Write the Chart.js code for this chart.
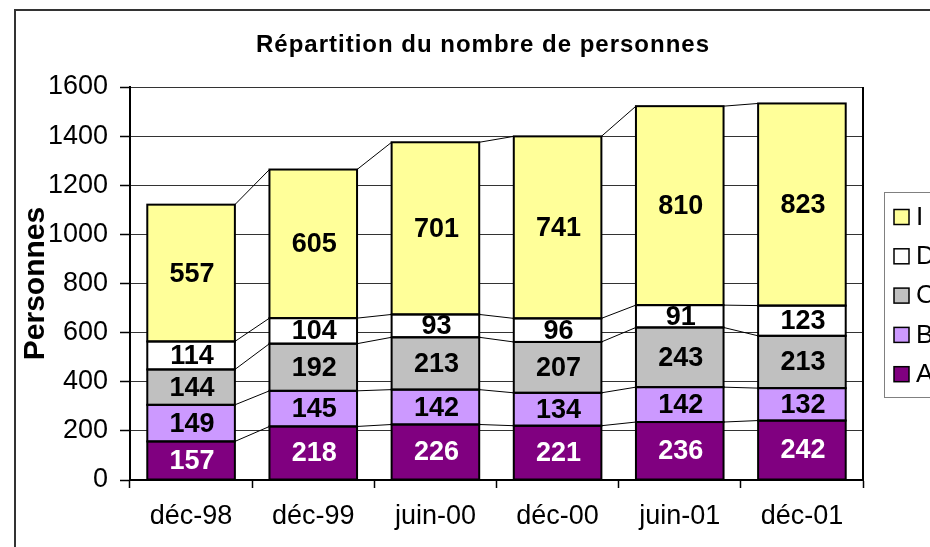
<!DOCTYPE html>
<html><head><meta charset="utf-8">
<script src="https://cdn.jsdelivr.net/npm/chart.js@4.4.0/dist/chart.umd.min.js"></script>
<style>html,body{margin:0;padding:0;background:#fff;overflow:hidden}#wrap{width:930px;height:547px;position:relative}</style>
</head><body><div id="wrap"><canvas id="c" width="930" height="547"></canvas></div>
<script>
const categories = ['déc-98','déc-99','juin-00','déc-00','juin-01','déc-01'];
const seriesNames = ['A','B','C','D','I'];
const seriesA = [157,218,226,221,236,242];
const seriesB = [149,145,142,134,142,132];
const seriesC = [144,192,213,207,243,213];
const seriesD = [114,104,93,96,91,123];
const seriesI = [557,605,701,741,810,823];
const yTicks = [0,200,400,600,800,1000,1200,1400,1600];
const chartTitle = 'Répartition du nombre de personnes';
const yAxisTitle = 'Personnes';

const FONT = "'Liberation Sans', Arial, sans-serif";
const colors = ['#800080','#CC99FF','#C0C0C0','#FFFFFF','#FFFF99'];
const labelColors = ['#FFFFFF','#000000','#000000','#000000','#000000'];
const seriesValues = [seriesA, seriesB, seriesC, seriesD, seriesI];

const framePlugin = {
  id: 'frame',
  beforeDraw(chart){
    const ctx = chart.ctx;
    ctx.save();
    ctx.fillStyle = '#fff';
    ctx.fillRect(0,0,chart.width,chart.height);
    ctx.strokeStyle = '#333';
    ctx.lineWidth = 2;
    ctx.strokeRect(15, 10, 2000, 2000);
    ctx.restore();
  }
};

const barsPlugin = {
  id: 'barsExtras',
  afterDatasetsDraw(chart){
    const ctx = chart.ctx;
    ctx.save();
    ctx.strokeStyle = '#000';
    ctx.lineWidth = 1;
    chart.data.datasets.forEach((ds, di) => {
      const meta = chart.getDatasetMeta(di);
      for (let i = 0; i < meta.data.length - 1; i++) {
        const a = meta.data[i], b = meta.data[i+1];
        ctx.beginPath();
        ctx.moveTo(a.x + a.width/2, a.y);
        ctx.lineTo(b.x - b.width/2, b.y);
        ctx.stroke();
      }
    });
    ctx.lineWidth = 2;
    chart.data.datasets.forEach((ds, di) => {
      const meta = chart.getDatasetMeta(di);
      meta.data.forEach(el => {
        ctx.strokeRect(el.x - el.width/2, el.y, el.width, el.base - el.y);
      });
    });
    ctx.font = 'bold 27px ' + FONT;
    ctx.textAlign = 'center';
    ctx.textBaseline = 'middle';
    chart.data.datasets.forEach((ds, di) => {
      const meta = chart.getDatasetMeta(di);
      ctx.fillStyle = labelColors[di];
      meta.data.forEach((el, i) => {
        ctx.fillText(String(ds.data[i]), el.x + 1, (el.y + el.base)/2 + 1);
      });
    });
    ctx.restore();
  },
  afterDraw(chart){
    const ctx = chart.ctx;
    const ca = chart.chartArea;
    ctx.save();
    ctx.strokeStyle = '#000';
    ctx.lineWidth = 2;
    ctx.beginPath();
    ctx.moveTo(ca.right, ca.top);
    ctx.lineTo(ca.right, ca.bottom);
    ctx.stroke();
    ctx.letterSpacing = '1px';
    ctx.font = 'bold 24px ' + FONT;
    ctx.fillStyle = '#000';
    ctx.textAlign = 'center';
    ctx.textBaseline = 'alphabetic';
    ctx.fillText(chartTitle, 483, 52);
    ctx.letterSpacing = '0px';
    ctx.strokeStyle = '#808080';
    ctx.lineWidth = 1;
    ctx.strokeRect(884.5, 192.5, 100, 205);
    ctx.font = '26px ' + FONT;
    ctx.textBaseline = 'middle';
    ctx.textAlign = 'left';
    const order = [4,3,2,1,0];
    order.forEach((di, k) => {
      const cy = 216.5 + k * 39.3;
      ctx.fillStyle = colors[di];
      ctx.fillRect(894, cy - 7, 15, 15);
      ctx.strokeStyle = '#000';
      ctx.lineWidth = 1.5;
      ctx.strokeRect(894, cy - 7, 15, 15);
      ctx.fillStyle = '#000';
      ctx.fillText(chart.data.datasets[di].label, 916, cy + 1);
    });
    ctx.restore();
  }
};

new Chart(document.getElementById('c'), {
  type: 'bar',
  data: {
    labels: categories,
    datasets: seriesValues.map((vals, i) => ({
      label: seriesNames[i],
      data: vals,
      backgroundColor: colors[i],
      borderWidth: 0,
      categoryPercentage: 1,
      barPercentage: 0.717
    }))
  },
  options: {
    responsive: false,
    animation: false,
    layout: { padding: { left: 14, right: 67, top: 87, bottom: 0 } },
    plugins: { legend: { display: false }, title: { display: false }, tooltip: { enabled: false } },
    scales: {
      x: {
        stacked: true,
        ticks: { font: { size: 27, family: FONT }, color: '#000', padding: 12, maxRotation: 0 },
        grid: { offset: true, drawOnChartArea: false, tickLength: 8, tickColor: '#000', tickWidth: 1.5 },
        border: { color: '#000', width: 2 },
        afterFit(s){ s.height = 67; }
      },
      y: {
        stacked: true,
        min: 0, max: 1600,
        afterBuildTicks(s){ s.ticks = yTicks.map(v => ({ value: v })); },
        ticks: { font: { size: 27, family: FONT }, color: '#000', padding: 12, callback: v => String(v) },
        grid: { color: '#333', lineWidth: 1, tickLength: 10, tickColor: '#000', tickWidth: 1.5 },
        border: { color: '#000', width: 2 },
        title: { display: true, text: yAxisTitle, font: { size: 30, weight: 'bold', family: FONT }, color: '#000', padding: { top: 4, bottom: 0 } },
        afterFit(s){ s.width = 130 - 14; }
      }
    }
  },
  plugins: [framePlugin, barsPlugin]
});
</script>
</body></html>
